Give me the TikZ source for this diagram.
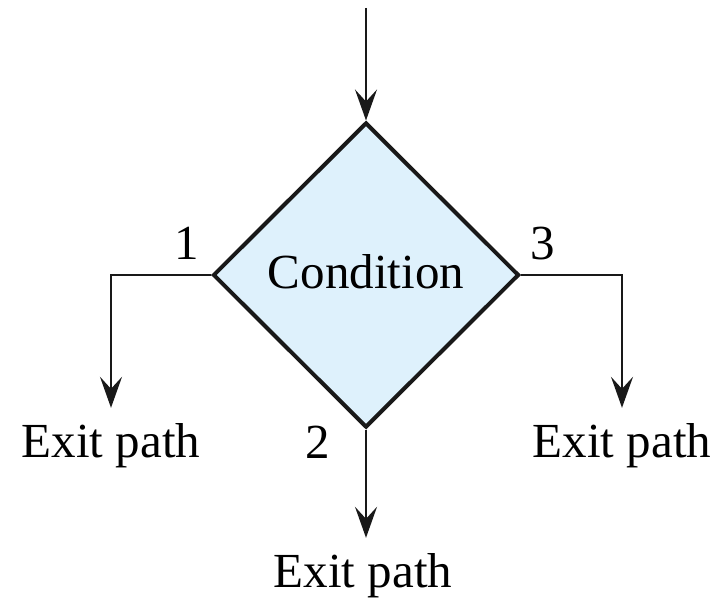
\documentclass[tikz,border=0pt]{standalone}
\usepackage{fontspec}
\setmainfont{Liberation Serif}
\usetikzlibrary{arrows.meta,shapes.geometric}
\definecolor{condfill}{RGB}{222,241,252}
\begin{document}
\begin{tikzpicture}[x=1bp, y=-1bp,
		every node/.style={font=\fontsize{49bp}{58bp}\selectfont, inner sep=0pt},
		flow/.style={draw=black!90, line width=2bp, -{Stealth[length=31bp, width=22bp, inset=12bp]}},
		decision/.style={diamond, draw=black!90, line width=4bp, fill=condfill, minimum width=306bp, minimum height=305bp, text height=34bp, text depth=8bp}]
		\useasboundingbox (0,0) rectangle (722,598);
		\coordinate (in) at (366,8);
		\node[decision] (cond) at (366,275) {Condition};
		\node[anchor=base] (exit1) at (111,457) {Exit path};
		\node[anchor=base] (exit2) at (363,587) {Exit path};
		\node[anchor=base] (exit3) at (622,457) {Exit path};
		\draw[flow] (in) -- (cond.north);
		\draw[flow, shorten >=15bp] (cond.west) -| (exit1.north);
		\draw[flow, shorten >=15bp] (cond.south) -- (cond.south |- exit2.north);
		\draw[flow, shorten >=15bp] (cond.east) -| (exit3.north);
		\node[anchor=base] (one) at (187,259) {1};
		\node[anchor=base] (two) at (318,458) {2};
		\node[anchor=base] (three) at (543,259) {3};
		\end{tikzpicture}
\end{document}
